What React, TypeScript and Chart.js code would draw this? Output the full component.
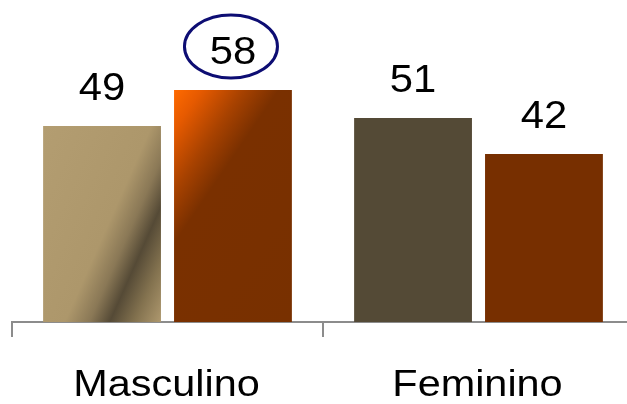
import React, { useEffect, useRef } from 'react';
import { Chart, registerables } from 'chart.js';

Chart.register(...registerables);

// ---- data ----
const categories = ['Masculino', 'Feminino'];
const seriesFirst = [49, 51];
const seriesSecond = [58, 42];
const yMin = 0;
const yMax = 80;
const circledSeries = 1;
const circledIndex = 0;

const FONT = '"Liberation Sans", Arial, Helvetica, sans-serif';

function applyGradient(ctx: CanvasRenderingContext2D, el: any, dir: [number, number], stops: [number, string][]) {
  const x = el.x, y = el.y, base = el.base, width = el.width;
  const left = x - width / 2;
  const top = Math.min(y, base);
  const h = Math.abs(base - y);
  const L = dir[0] * width + dir[1] * h;
  const g = ctx.createLinearGradient(left, top, left + dir[0] * L, top + dir[1] * L);
  stops.forEach(([o, c]) => g.addColorStop(o, c));
  el.options = Object.assign({}, el.options, { backgroundColor: g });
}

const gradientPlugin = {
  id: 'barGradients',
  beforeDatasetsDraw(chart: any) {
    const ctx = chart.ctx;
    const a = chart.getDatasetMeta(0).data[0];
    const b = chart.getDatasetMeta(1).data[0];
    if (a) {
      applyGradient(ctx, a, [0.914, 0.405], [
        [0, '#b39d71'],
        [0.53, '#ad976b'],
        [0.65, '#8a7856'],
        [0.75, '#554a36'],
        [0.87, '#83724f'],
        [1, '#ae986e'],
      ]);
    }
    if (b) {
      applyGradient(ctx, b, [0.826, 0.563], [
        [0, '#ff6a00'],
        [0.1, '#e65a00'],
        [0.25, '#a84200'],
        [0.38, '#7a3000'],
        [1, '#783000'],
      ]);
    }
  },
};

const textPlugin = {
  id: 'texts',
  afterDraw(chart: any) {
    const ctx: CanvasRenderingContext2D = chart.ctx;
    ctx.save();
    ctx.fillStyle = '#000000';
    ctx.textAlign = 'center';
    ctx.textBaseline = 'alphabetic';
    ctx.font = `38px ${FONT}`;
    chart.data.datasets.forEach((ds: any, di: number) => {
      chart.getDatasetMeta(di).data.forEach((el: any, i: number) => {
        ctx.save();
        ctx.translate(el.x, el.y - 26);
        ctx.scale(1.1, 1);
        ctx.fillText(String(ds.data[i]), 0, 0);
        ctx.restore();
      });
    });
    const xs = chart.scales.x;
    ctx.font = `36px ${FONT}`;
    chart.data.labels.forEach((lab: string, i: number) => {
      const px = xs.getPixelForValue(i);
      ctx.save();
      ctx.translate(px - 1, chart.chartArea.bottom + 74);
      ctx.scale(1.15, 1);
      ctx.fillText(lab, 0, 0);
      ctx.restore();
    });
    const el = chart.getDatasetMeta(circledSeries).data[circledIndex];
    if (el) {
      ctx.strokeStyle = '#0d0d73';
      ctx.lineWidth = 3;
      ctx.beginPath();
      ctx.ellipse(el.x - 2, el.y - 43.5, 46.5, 31.5, 0, 0, Math.PI * 2);
      ctx.stroke();
    }
    ctx.restore();
  },
};

export default function App() {
  const ref = useRef<HTMLCanvasElement | null>(null);
  useEffect(() => {
    if (!ref.current) return;
    const chart = new Chart(ref.current, {
      type: 'bar',
      data: {
        labels: categories,
        datasets: [
          {
            data: seriesFirst,
            backgroundColor: ['#b09a6e', '#544a36'],
            borderWidth: 0,
            categoryPercentage: 0.842,
            barPercentage: 0.9,
          },
          {
            data: seriesSecond,
            backgroundColor: ['#783000', '#772f00'],
            borderWidth: 0,
            categoryPercentage: 0.842,
            barPercentage: 0.9,
          },
        ],
      },
      options: {
        responsive: false,
        animation: false,
        layout: { padding: { left: 12, right: 6, top: 2, bottom: 67 } },
        plugins: { legend: { display: false }, tooltip: { enabled: false } },
        scales: {
          x: {
            offset: true,
            grid: {
              display: true,
              drawOnChartArea: false,
              drawTicks: true,
              tickLength: 15,
              color: '#8c8c8c',
              lineWidth: 2,
              offset: true,
            },
            border: { display: true, color: '#8c8c8c', width: 2 },
            ticks: { display: false },
          },
          y: { display: false, min: yMin, max: yMax },
        },
      },
      plugins: [gradientPlugin, textPlugin],
    });
    return () => chart.destroy();
  }, []);
  return (
    <div style={{ position: 'absolute', left: 0, top: 0, width: 627, height: 404, overflow: 'hidden', background: '#fff' }}>
      <div style={{ width: 640, height: 404 }}>
        <canvas ref={ref} width={640} height={404} style={{ width: 640, height: 404, display: 'block' }} />
      </div>
    </div>
  );
}
